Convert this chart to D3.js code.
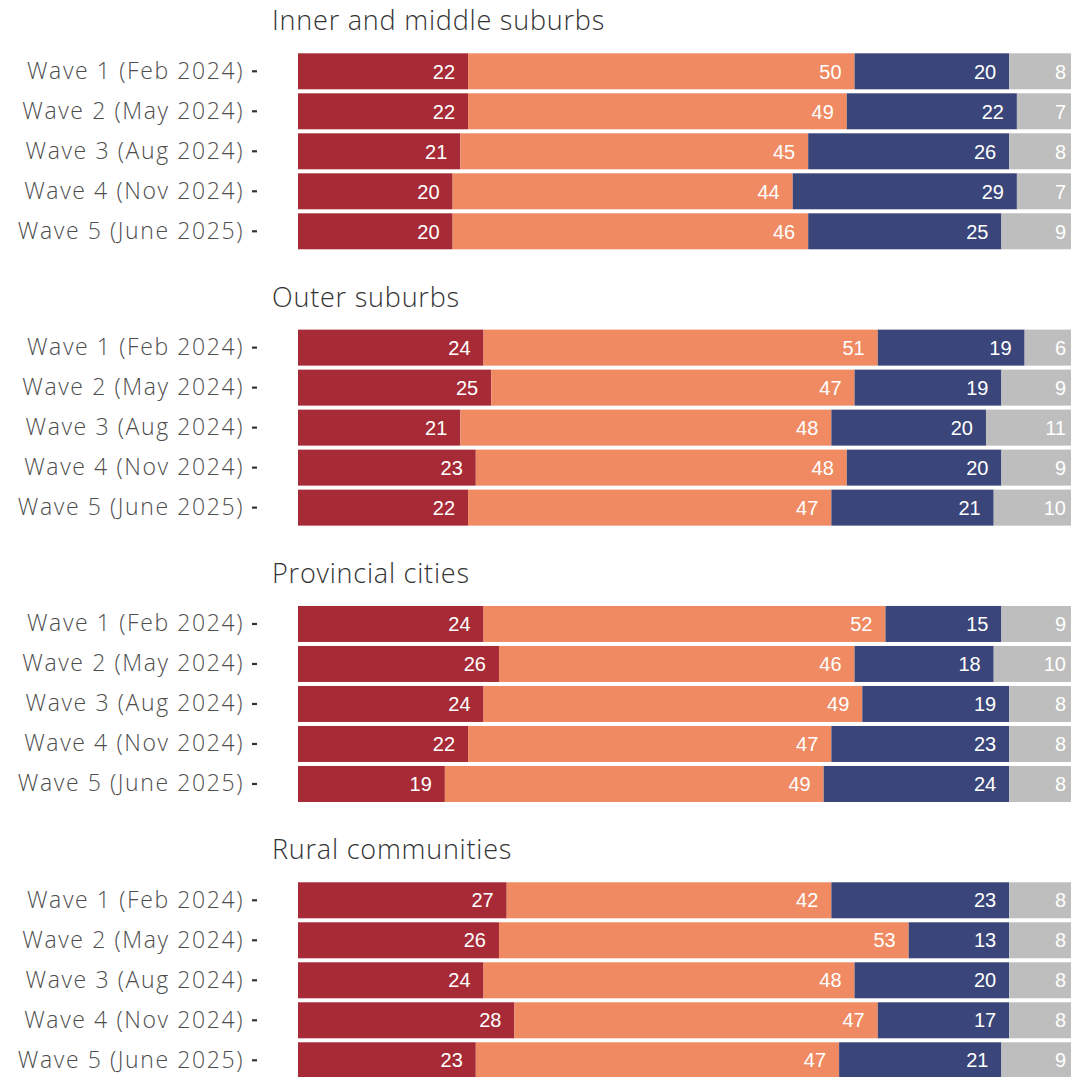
<!DOCTYPE html>
<html><head><meta charset="utf-8">
<script src="https://cdn.jsdelivr.net/npm/d3@7"></script>
<style>
html,body{margin:0;padding:0;background:#fff;}
svg{display:block;}
</style></head>
<body>
<svg id="chart" width="1071" height="1077"></svg>
<script>
const panels = ["Inner and middle suburbs", "Outer suburbs", "Provincial cities", "Rural communities"];
const waves = ["Wave 1 (Feb 2024)", "Wave 2 (May 2024)", "Wave 3 (Aug 2024)", "Wave 4 (Nov 2024)", "Wave 5 (June 2025)"];
const seriesKeys = ["s1", "s2", "s3", "s4"];
const seriesColors = ["#a62b37", "#ef8a62", "#3a4579", "#bebebe"];

// values per panel, per wave: [s1, s2, s3, s4]
const innerMiddle = [[22,50,20,8],[22,49,22,7],[21,45,26,8],[20,44,29,7],[20,46,25,9]];
const outerSuburbs = [[24,51,19,6],[25,47,19,9],[21,48,20,11],[23,48,20,9],[22,47,21,10]];
const provincialCities = [[24,52,15,9],[26,46,18,10],[24,49,19,8],[22,47,23,8],[19,49,24,8]];
const ruralCommunities = [[27,42,23,8],[26,53,13,8],[24,48,20,8],[28,47,17,8],[23,47,21,9]];
const panelValues = [innerMiddle, outerSuburbs, provincialCities, ruralCommunities];

const svg = d3.select("#chart");
const x = d3.scaleLinear().domain([0, 100]).range([298, 1071]);
const panelStep = 276.33;
const firstTop = 51.3;
const labelFont = "'Open Sans', Lato, sans-serif";

function fitSpacing(sel, target) {
  const node = sel.node();
  const w = node.getComputedTextLength();
  const n = node.textContent.length;
  return (target - w) / n;
}

panels.forEach((title, pi) => {
  const top = firstTop + pi * panelStep;
  const y = d3.scaleBand().domain(waves).range([top, top + 200]).paddingInner(0.1).paddingOuter(0.05);
  const g = svg.append("g");

  const t = g.append("text")
    .attr("x", 272).attr("y", top - 21)
    .attr("font-family", labelFont).attr("font-weight", 300)
    .attr("font-size", 27).attr("fill", "#333")
    .text(title);
  if (pi === 0) { window.titleLS = fitSpacing(t, 333); }
  t.attr("letter-spacing", window.titleLS);

  const rows = waves.map((w, i) => {
    const obj = {wave: w};
    seriesKeys.forEach((k, j) => obj[k] = panelValues[pi][i][j]);
    return obj;
  });
  const stacked = d3.stack().keys(seriesKeys)(rows);

  stacked.forEach((layer, li) => {
    const lg = g.append("g");
    lg.selectAll("rect").data(layer).enter().append("rect")
      .attr("x", d => x(d[0]))
      .attr("width", d => x(d[1]) - x(d[0]))
      .attr("y", d => y(d.data.wave))
      .attr("height", y.bandwidth())
      .attr("fill", seriesColors[li]);
    lg.selectAll("text").data(layer).enter().append("text")
      .attr("x", d => x(d[1]) - (li === 3 ? 5 : 13))
      .attr("y", d => y(d.data.wave) + y.bandwidth() / 2)
      .attr("dy", "0.36em")
      .attr("text-anchor", "end")
      .attr("font-family", "Liberation Sans, Arial, sans-serif")
      .attr("font-size", 20)
      .attr("fill", "#fff")
      .text(d => d.data[layer.key]);
  });

  const axis = d3.axisLeft(y).tickSize(5).tickPadding(8);
  const ag = g.append("g").attr("transform", "translate(257,0)").call(axis);
  ag.select(".domain").remove();
  ag.selectAll(".tick line").attr("stroke", "#333").attr("stroke-width", 2.2);
  const tt = ag.selectAll(".tick text")
    .attr("font-family", labelFont).attr("font-weight", 300)
    .attr("font-size", 23).attr("fill", "#4d4d4d");
  if (pi === 0) { window.axisLS = fitSpacing(d3.select(tt.nodes()[0]), 217); }
  tt.attr("letter-spacing", window.axisLS);
});
</script>
</body></html>
